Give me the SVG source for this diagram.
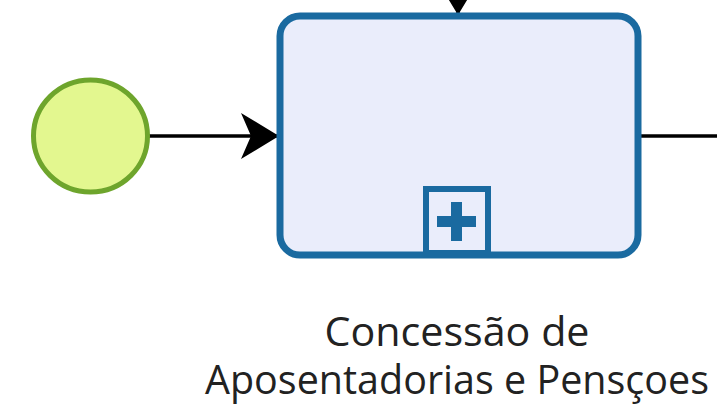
<svg xmlns="http://www.w3.org/2000/svg" width="717" height="420" viewBox="0 0 717 420">
<style>
.flow{stroke:#000;stroke-width:3.5;fill:none}
.lbl{font-family:"Open Sans","Noto Sans",sans-serif;font-size:40px;fill:#222;text-anchor:middle}
</style>
<defs>
<marker id="arr" markerUnits="userSpaceOnUse" markerWidth="40" markerHeight="46" refX="38" refY="23" orient="auto">
<path d="M0,0 L38,23 L0,46 L10,23 Z" fill="#000"/>
</marker>
</defs>
<rect width="717" height="420" fill="#fff"/>
<g id="connectors">
<line class="flow" x1="149" y1="136" x2="279" y2="136" marker-end="url(#arr)"/>
<line class="flow" x1="458" y1="-30" x2="458" y2="15" marker-end="url(#arr)"/>
<line class="flow" x1="640" y1="136" x2="717" y2="136"/>
</g>
<g id="start">
<ellipse cx="90.5" cy="136" rx="57" ry="56" fill="#e3f78f" stroke="#6ea52c" stroke-width="5"/>
</g>
<g id="subprocess">
<rect x="280" y="16" width="358" height="239" rx="20" fill="#eaedfb" stroke="#1a6aa0" stroke-width="7"/>
<rect x="426" y="189" width="62" height="64" fill="#eaedfb" stroke="#1a6aa0" stroke-width="6"/>
<path d="M451,202 h11 v14 h14 v11 h-14 v14 h-11 v-14 h-14 v-11 h14 Z" fill="#1a6aa0"/>
<text class="lbl" x="457" y="346" textLength="265" lengthAdjust="spacingAndGlyphs">Concessão de</text>
<text class="lbl" x="457" y="394" textLength="504" lengthAdjust="spacingAndGlyphs">Aposentadorias e Pensçoes</text>
</g>
</svg>
